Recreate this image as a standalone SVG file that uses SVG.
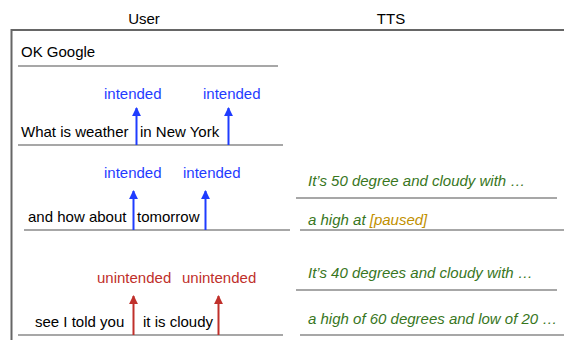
<svg xmlns="http://www.w3.org/2000/svg" width="564" height="340" viewBox="0 0 564 340">
<defs>
<style>
text{font-family:"Liberation Sans",Arial,sans-serif;font-size:15px}
.k{fill:#000}
.b{fill:#1f3cff}
.r{fill:#c0302b}
.g{fill:#38761d;font-style:italic}
.y{fill:#bf9000}
.sep{stroke:#8a8a8a;stroke-width:1.5;fill:none}
.ab{stroke:#1f3cff;stroke-width:2;fill:none}
.ar{stroke:#c0302b;stroke-width:2;fill:none}
</style>
<marker id="mb" viewBox="0 0 10 10" refX="9" refY="5" markerWidth="4.5" markerHeight="4.5" orient="auto"><path d="M0,0L10,5L0,10z" fill="#1f3cff"/></marker>
<marker id="mr" viewBox="0 0 10 10" refX="9" refY="5" markerWidth="4.5" markerHeight="4.5" orient="auto"><path d="M0,0L10,5L0,10z" fill="#c0302b"/></marker>
</defs>
<rect width="564" height="340" fill="#fff"/>
<g id="frame">
<path d="M11.5,345V30H570" stroke="#666" stroke-width="2" fill="none"/>
<text class="k" x="144" y="24" text-anchor="middle">User</text>
<text class="k" x="391" y="24" text-anchor="middle">TTS</text>
</g>
<g id="user1">
<text class="k" x="21" y="57">OK Google</text>
<line class="sep" x1="18" y1="66" x2="278" y2="66"/>
</g>
<g id="user2">
<text class="k" x="21" y="137">What is weather</text>
<text class="k" x="140" y="137">in New York</text>
<line class="sep" x1="18" y1="145" x2="283" y2="145"/>
<text class="b" x="104" y="99">intended</text>
<text class="b" x="203" y="99">intended</text>
</g>
<g id="user3">
<text class="k" x="28" y="222">and how about</text>
<text class="k" x="137" y="222">tomorrow</text>
<line class="sep" x1="24" y1="230" x2="290" y2="230"/>
<text class="b" x="104" y="178">intended</text>
<text class="b" x="183" y="178">intended</text>
</g>
<g id="user4">
<text class="k" x="35" y="327">see I told you</text>
<text class="k" x="143" y="327">it is cloudy</text>
<line class="sep" x1="18" y1="335" x2="283" y2="335"/>
<text class="r" x="97" y="283">unintended</text>
<text class="r" x="182" y="283">unintended</text>
</g>
<g id="tts1">
<text class="g" x="308" y="186">It’s 50 degree and cloudy with …</text>
<line class="sep" x1="296" y1="198" x2="557" y2="198"/>
</g>
<g id="tts2">
<text class="g" x="308" y="225">a high at <tspan class="y">[paused]</tspan></text>
<line class="sep" x1="300" y1="230" x2="564" y2="230"/>
</g>
<g id="tts3">
<text class="g" x="308" y="278">It’s 40 degrees and cloudy with …</text>
<line class="sep" x1="296" y1="290" x2="557" y2="290"/>
</g>
<g id="tts4">
<text class="g" x="308" y="324">a high of 60 degrees and low of 20 …</text>
<line class="sep" x1="300" y1="335" x2="564" y2="335"/>
</g>
<g id="connectors">
<line class="ab" x1="136.5" y1="145" x2="136.5" y2="108" marker-end="url(#mb)"/>
<line class="ab" x1="228.5" y1="145" x2="228.5" y2="108" marker-end="url(#mb)"/>
<line class="ab" x1="133.5" y1="230" x2="133.5" y2="191" marker-end="url(#mb)"/>
<line class="ab" x1="205.5" y1="230" x2="205.5" y2="191" marker-end="url(#mb)"/>
<line class="ar" x1="133.5" y1="335" x2="133.5" y2="296" marker-end="url(#mr)"/>
<line class="ar" x1="218.5" y1="335" x2="218.5" y2="296" marker-end="url(#mr)"/>
</g>
</svg>
